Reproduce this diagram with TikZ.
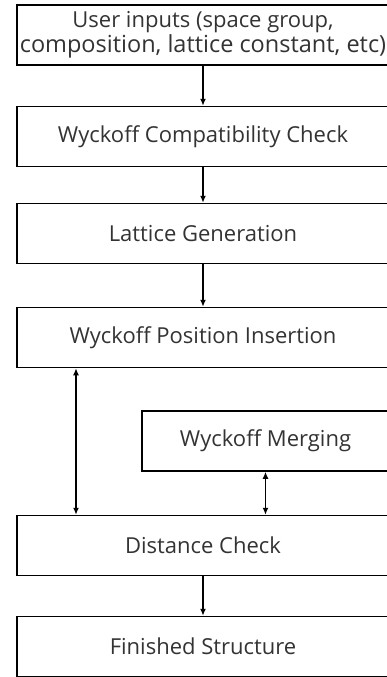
\documentclass[tikz,border=0pt]{standalone}
\usepackage{fontspec}
\setmainfont{Open Sans}
\usetikzlibrary{arrows.meta}
\tikzset{stepbox/.style={draw, line width=1.5pt, minimum width=372pt, minimum height=60pt,
    inner sep=0pt, align=center, text=black!80, font=\fontsize{22}{26}\selectfont}}
\def\flow{\draw[-{Latex[length=7pt,width=6pt]}, line width=1.3pt]}
\def\both{\draw[{Latex[length=7pt,width=6pt]}-{Latex[length=7pt,width=6pt]}, line width=1.3pt]}

\begin{document}
\begin{tikzpicture}[x=1pt,y=-1pt]
    \useasboundingbox (0,0) rectangle (386,677);
    \node[stepbox] (inputs) at (203,35) {User inputs (space group,\\[-1pt]\fontsize{23.5}{26}\selectfont composition, lattice constant, etc)};
    \node[stepbox] (compat) at (203,136.5) {Wyckoff Compatibility Check};
    \node[stepbox] (lattice) at (203,233.5) {Lattice Generation};
    \node[stepbox] (insert) at (203,337.5) {Wyckoff Position Insertion};
    \node[stepbox, minimum width=247pt] (merge) at (265.5,441) {Wyckoff Merging};
    \node[stepbox] (dist) at (203,545.5) {Distance Check};
    \node[stepbox] (final) at (203,646.5) {Finished Structure};
    % main flow
    \flow (inputs) -- (compat);
    \flow (compat) -- (lattice);
    \flow (lattice) -- (insert);
    \flow (dist) -- (final);
    % loops back
    \both (insert.south -| 76,0) -- (dist.north -| 76,0);
    \both (merge) -- (merge |- dist.north);
\end{tikzpicture}
\end{document}
